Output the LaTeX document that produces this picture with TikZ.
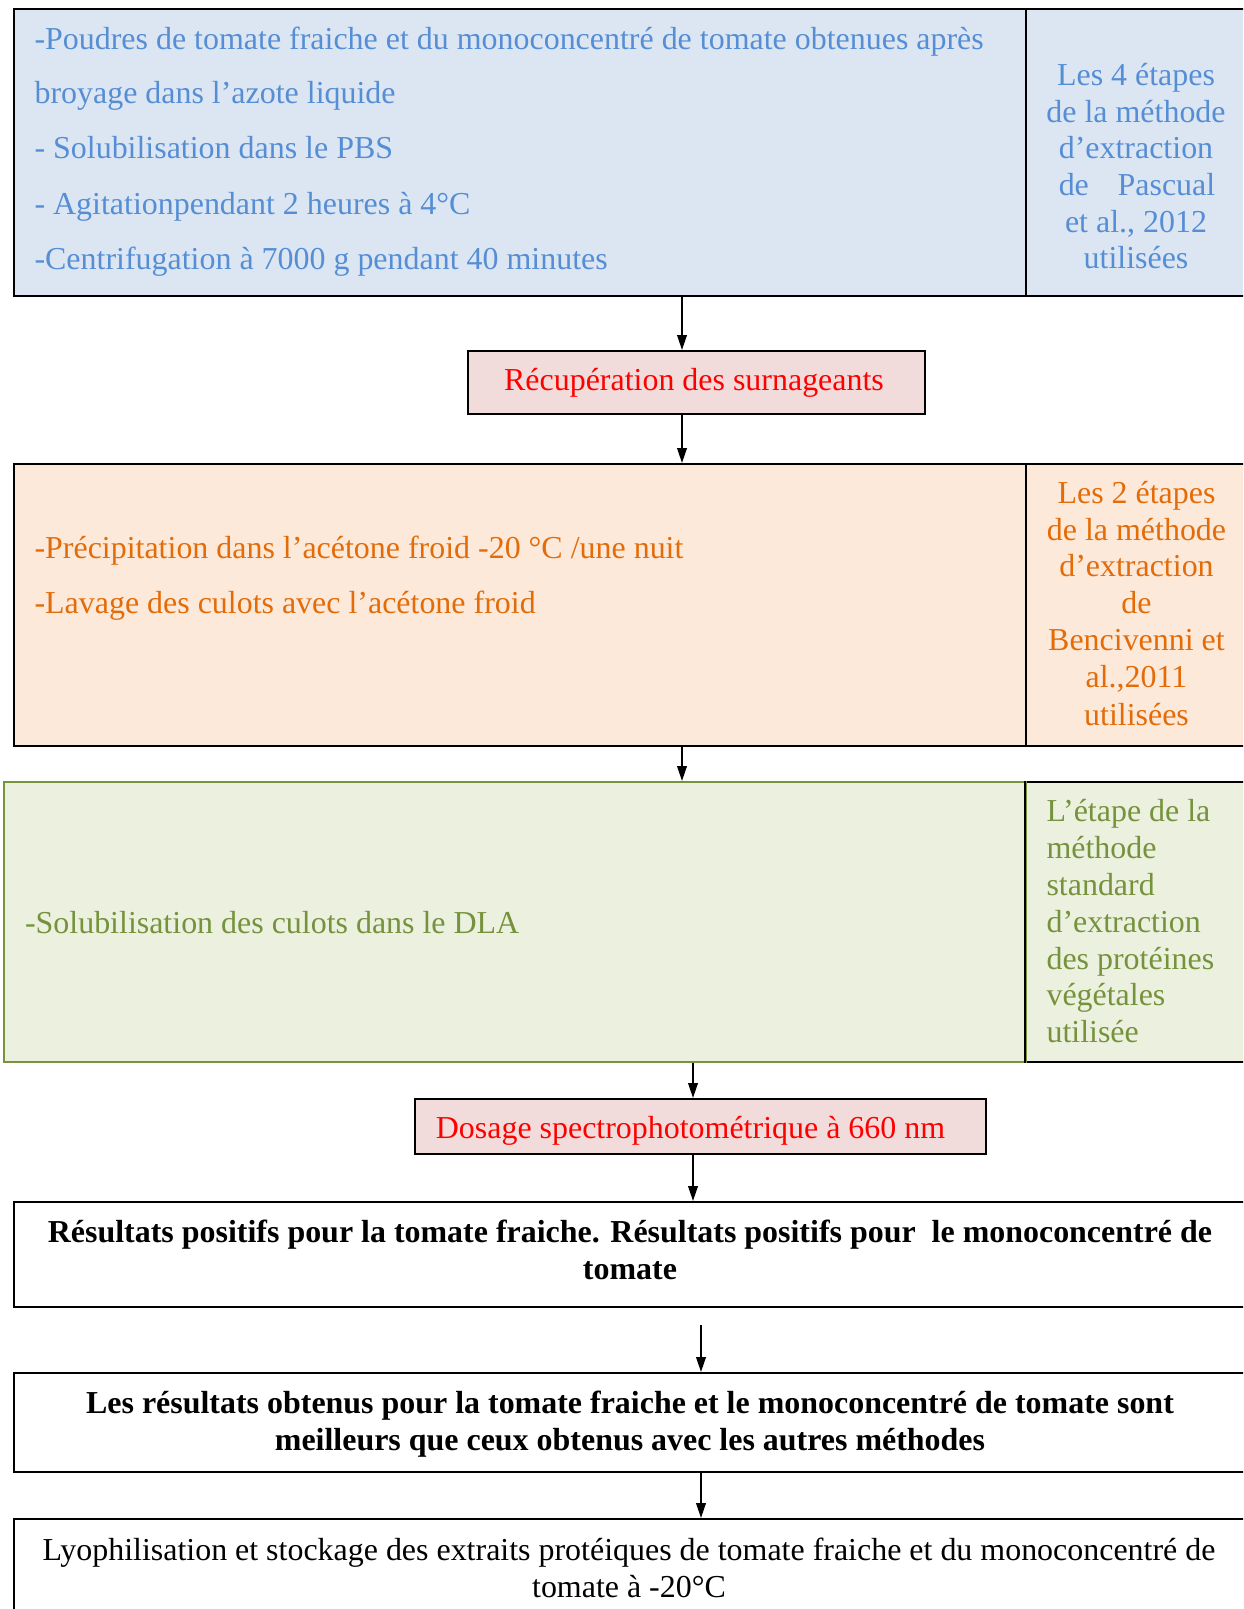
\documentclass[tikz,border=0pt]{standalone}
\usepackage{fontspec}
\setmainfont{Liberation Serif}
\usetikzlibrary{arrows.meta,fit}
\definecolor{bluefill}{HTML}{DCE6F2}
\definecolor{bluetext}{HTML}{558ED5}
\definecolor{orangefill}{HTML}{FDE9D9}
\definecolor{orangetext}{HTML}{E36C09}
\definecolor{greenfill}{HTML}{EBF1DE}
\definecolor{greentext}{HTML}{76923C}
\definecolor{greenborder}{HTML}{77933C}
\definecolor{redfill}{HTML}{F2DCDB}
\definecolor{redtext}{HTML}{FF0000}
\tikzset{
  cell/.style={draw=black, line width=0.8pt, inner sep=0pt},
  ln/.style={inner sep=0pt, font=\fontsize{11.82}{14}\selectfont},
  bln/.style={inner sep=0pt, font=\fontsize{11.82}{14}\selectfont\bfseries},
  arr/.style={-{Triangle[length=5.5pt,width=3.6pt]}, line width=0.55pt},
}
\begin{document}
\begin{tikzpicture}[x=0.37pt, y=-0.37pt]
\useasboundingbox (0,0) rectangle (1243,1609);
\clip (0,0) rectangle (1243,1609);
% ---------- boxes ----------
\node[cell, fill=bluefill, fit={(14,9) (1026,296)}] (b1) {};
\node[cell, fill=bluefill, fit={(1026,9) (1255,296)}] (b1r) {};
\node[cell, fill=redfill, fit={(468,351) (925,414)}] (rec) {};
\node[cell, fill=orangefill, fit={(14,464) (1026,746)}] (b2) {};
\node[cell, fill=orangefill, fit={(1026,464) (1255,746)}] (b2r) {};
\node[cell, fill=greenfill, fit={(1026,782) (1255,1062)}] (b3r) {};
\node[cell, draw=greenborder, fill=greenfill, fit={(4,782) (1026,1062)}] (b3) {};
\draw[black, line width=0.8pt] (b3r.north west) -- (b3r.south west);
\node[cell, fill=redfill, fit={(415,1099) (986,1154)}] (dos) {};
\node[cell, fit={(14,1202) (1255,1307)}] (b4) {};
\node[cell, fit={(14,1373) (1255,1472)}] (b5) {};
\node[cell, fit={(14,1519) (1255,1625)}] (b6) {};
% ---------- texts ----------
\begin{scope}[every node/.append style={text=bluetext}]
\node[ln, anchor=base west] (t1a) at (34,49) {-Poudres de tomate fraiche et du monoconcentré de tomate obtenues après};
\node[ln, anchor=base west] (t1b) at (34,103.4) {broyage dans l’azote liquide};
\node[ln, anchor=base west] (t1c) at (34,158.8) {- Solubilisation dans le PBS};
\node[ln, anchor=base west] (t1d) at (34,214.3) {- Agitationpendant 2 heures à 4°C};
\node[ln, anchor=base west] (t1e) at (34,269.7) {-Centrifugation à 7000 g pendant 40 minutes};
\node[ln, anchor=base] (r1a) at (1136,85) {Les 4 étapes};
\node[ln, anchor=base] (r1b) at (1136,122) {de la méthode};
\node[ln, anchor=base] (r1c) at (1136,158.8) {d’extraction};
\node[ln, anchor=base] (r1d) at (1137,195.8) {de\hspace{0.9em}Pascual};
\node[ln, anchor=base] (r1e) at (1136,232.7) {et al., 2012};
\node[ln, anchor=base] (r1f) at (1136,268.7) {utilisées};
\end{scope}
\node[ln, anchor=base, text=redtext] (trec) at (694,390) {Récupération des surnageants};
\begin{scope}[every node/.append style={text=orangetext}]
\node[ln, anchor=base west] (t2a) at (34,558.5) {-Précipitation dans l’acétone froid -20 °C /une nuit};
\node[ln, anchor=base west] (t2b) at (34,613.5) {-Lavage des culots avec l’acétone froid};
\node[ln, anchor=base] (r2a) at (1136.5,503) {Les 2 étapes};
\node[ln, anchor=base] (r2b) at (1136.5,540) {de la méthode};
\node[ln, anchor=base] (r2c) at (1136.5,576.6) {d’extraction};
\node[ln, anchor=base] (r2d) at (1136.5,613.5) {de};
\node[ln, anchor=base] (r2e) at (1136.5,650.5) {Bencivenni et};
\node[ln, anchor=base] (r2f) at (1136.5,687.4) {al.,2011};
\node[ln, anchor=base] (r2g) at (1136.5,725) {utilisées};
\end{scope}
\begin{scope}[every node/.append style={text=greentext}]
\node[ln, anchor=base west] (t3a) at (24.5,933.3) {-Solubilisation des culots dans le DLA};
\node[ln, anchor=base west] (r3a) at (1046,821.7) {L’étape de la};
\node[ln, anchor=base west] (r3b) at (1046,858.6) {méthode};
\node[ln, anchor=base west] (r3c) at (1046,895.5) {standard};
\node[ln, anchor=base west] (r3d) at (1046,932) {d’extraction};
\node[ln, anchor=base west] (r3e) at (1046,969) {des protéines};
\node[ln, anchor=base west] (r3f) at (1046,1005.5) {végétales};
\node[ln, anchor=base west] (r3g) at (1046,1042) {utilisée};
\end{scope}
\node[ln, anchor=base, text=redtext] (tdos) at (690.5,1138.3) {Dosage spectrophotométrique à 660 nm};
\node[bln, anchor=base] (t4a) at (630,1242.3) {Résultats positifs pour la tomate fraiche. Résultats positifs pour~ le monoconcentré de};
\node[bln, anchor=base] (t4b) at (630,1279.3) {tomate};
\node[bln, anchor=base] (t5a) at (630,1413.3) {Les résultats obtenus pour la tomate fraiche et le monoconcentré de tomate sont};
\node[bln, anchor=base] (t5b) at (630,1450) {meilleurs que ceux obtenus avec les autres méthodes};
\node[ln, anchor=base] (t6a) at (629,1560) {Lyophilisation et stockage des extraits protéiques de tomate fraiche et du monoconcentré de};
\node[ln, anchor=base] (t6b) at (629,1597) {tomate à -20°C};
% ---------- connectors ----------
\coordinate (xa) at (682,0);
\coordinate (xb) at (693,0);
\coordinate (xc) at (701,0);
\coordinate (s6) at (701,1325);
\draw[arr] (xa |- b1.south) -- (xa |- rec.north);
\draw[arr] (xa |- rec.south) -- (xa |- b2.north);
\draw[arr] (xa |- b2.south) -- (xa |- b3.north);
\draw[arr] (xb |- b3.south) -- (xb |- dos.north);
\draw[arr] (xb |- dos.south) -- (xb |- b4.north);
\draw[arr] (s6) -- (s6 |- b5.north);
\draw[arr] (xc |- b5.south) -- (xc |- b6.north);
\end{tikzpicture}
\end{document}
